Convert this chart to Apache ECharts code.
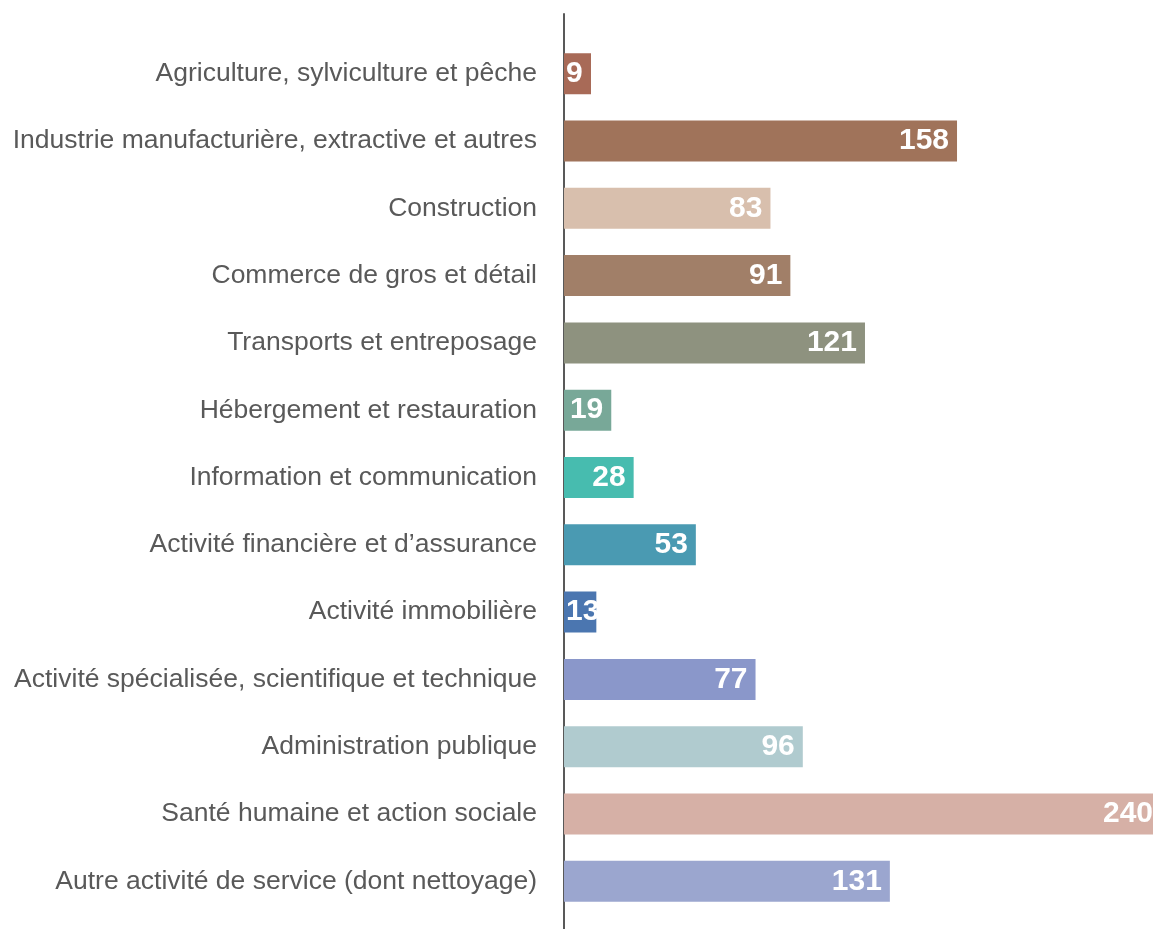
<!DOCTYPE html>
<html>
<head>
<meta charset="utf-8">
<script src="https://cdn.jsdelivr.net/npm/echarts@6/dist/echarts.min.js"></script>
<style>
  html, body { margin: 0; padding: 0; background: #fff; overflow: hidden; }
  #chart { width: 1161px; height: 929px; }
</style>
</head>
<body>
<div id="chart"></div>
<script>
const sectors = [
  'Agriculture, sylviculture et pêche',
  'Industrie manufacturière, extractive et autres',
  'Construction',
  'Commerce de gros et détail',
  'Transports et entreposage',
  'Hébergement et restauration',
  'Information et communication',
  'Activité financière et d’assurance',
  'Activité immobilière',
  'Activité spécialisée, scientifique et technique',
  'Administration publique',
  'Santé humaine et action sociale',
  'Autre activité de service (dont nettoyage)'
]
const counts = [9, 158, 83, 91, 121, 19, 28, 53, 13, 77, 96, 240, 131]
const barColors = [
  '#a86a57', '#a0735a', '#d8bfad', '#a17f68', '#8e927f', '#78a898', '#47bcaf',
  '#4a9ab2', '#4b76b0', '#8a97ca', '#b0cbcf', '#d6b0a6', '#9ba6cf'
]

const chart = echarts.init(document.getElementById('chart'))

chart.setOption({
  animation: false,
  grid: [
    { left: 564, right: 0, top: 40, bottom: 14 },
    { left: 564, right: 0, top: 14, bottom: 0 }
  ],
  xAxis: [
    { gridIndex: 0, type: 'value', min: 0, max: 240, show: false },
    { gridIndex: 1, type: 'value', show: false }
  ],
  yAxis: [
    {
      gridIndex: 0,
      type: 'category',
      inverse: true,
      data: sectors,
      axisLine: { show: false },
      axisTick: { show: false },
      axisLabel: {
        color: '#595959',
        fontFamily: 'Liberation Sans, Arial, sans-serif',
        fontSize: 26.5,
        margin: 27,
        padding: [10, 0, 0, 0]
      }
    },
    {
      gridIndex: 1,
      type: 'value',
      axisLine: { show: true, onZero: false, lineStyle: { color: '#595959', width: 2 } },
      axisTick: { show: false },
      axisLabel: { show: false },
      splitLine: { show: false }
    }
  ],
  series: [
    {
      type: 'bar',
      xAxisIndex: 0,
      yAxisIndex: 0,
      barWidth: 41,
      barMinHeight: 27,
      data: counts.map((v, i) => ({
        value: v,
        itemStyle: { color: barColors[i] },
        // short bars: keep the number inside, starting from the axis
        label: v < 15 ? { position: 'insideLeft', distance: 2 } : undefined
      })),
      label: {
        show: true,
        position: 'insideRight',
        distance: 8,
        color: '#fff',
        fontFamily: 'Liberation Sans, Arial, sans-serif',
        fontWeight: 'bold',
        fontSize: 30,
        padding: [4, 0, 0, 0]
      }
    }
  ]
})
</script>
</body>
</html>
